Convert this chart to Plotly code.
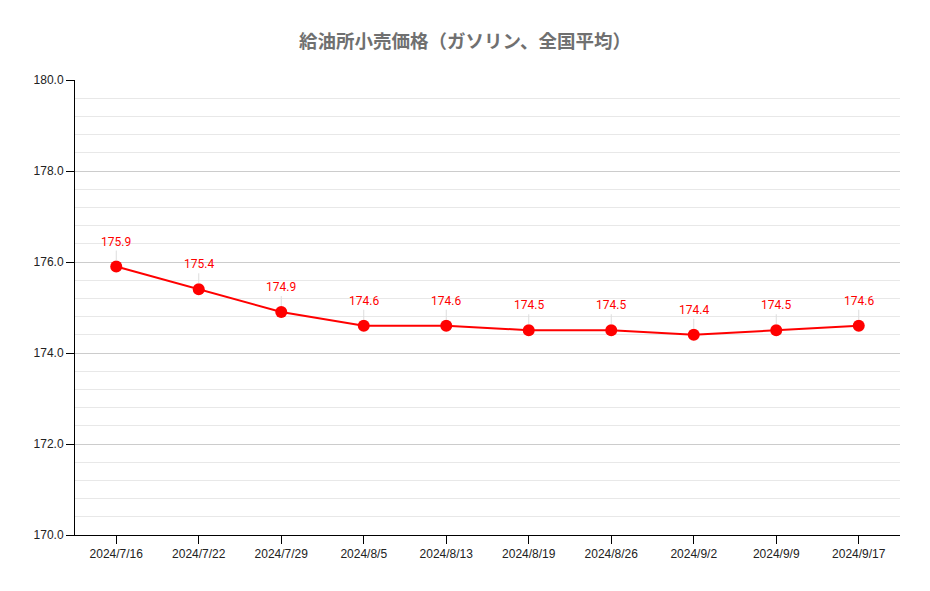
import plotly.graph_objects as go

dates = ["2024/7/16", "2024/7/22", "2024/7/29", "2024/8/5", "2024/8/13",
         "2024/8/19", "2024/8/26", "2024/9/2", "2024/9/9", "2024/9/17"]
prices = [175.9, 175.4, 174.9, 174.6, 174.6, 174.5, 174.5, 174.4, 174.5, 174.6]
title_text = "給油所小売価格（ガソリン、全国平均）"

fig = go.Figure()
fig.add_trace(go.Scatter(
    x=dates, y=prices, mode="lines+markers",
    line=dict(color="#ff0000", width=2),
    marker=dict(color="#ff0000", size=12),
    hoverinfo="x+y", showlegend=False,
))

for d, p in zip(dates, prices):
    fig.add_annotation(
        x=d, y=p, text=f"{p:.1f}", showarrow=True, arrowhead=0,
        arrowwidth=1, arrowcolor="#dddddd", ax=0, ay=-16, standoff=6,
        font=dict(color="#ff0000", size=12, family="Roboto, Liberation Sans, sans-serif"),
        yanchor="bottom",
    )

fig.update_layout(
    width=930, height=591,
    margin=dict(l=75, r=30, t=80, b=56),
    paper_bgcolor="white", plot_bgcolor="white",
    title=dict(text=title_text, x=0.5, xanchor="center", y=0.93, yanchor="middle",
               font=dict(size=18.5, color="#707070",
                         family="Noto Sans CJK JP, sans-serif", weight="bold")),
    font=dict(family="Liberation Sans, Arial, sans-serif", size=12, color="#222222"),
)
fig.update_xaxes(
    type="category", range=[-0.5, 9.5], showgrid=False,
    showline=True, linecolor="black", linewidth=1,
    ticks="outside", ticklen=8, tickcolor="black",
    tickfont=dict(size=12, color="#222222"),
)
fig.update_yaxes(
    range=[170, 180], dtick=2, tickformat=".1f",
    showgrid=True, gridcolor="#cccccc", gridwidth=1,
    minor=dict(dtick=0.4, showgrid=True, gridcolor="#e8e8e8", gridwidth=1),
    showline=True, linecolor="black", linewidth=1,
    ticks="outside", ticklen=8, tickcolor="black",
    tickfont=dict(size=12, color="#222222"), zeroline=False,
)

fig.write_html("out.html")
